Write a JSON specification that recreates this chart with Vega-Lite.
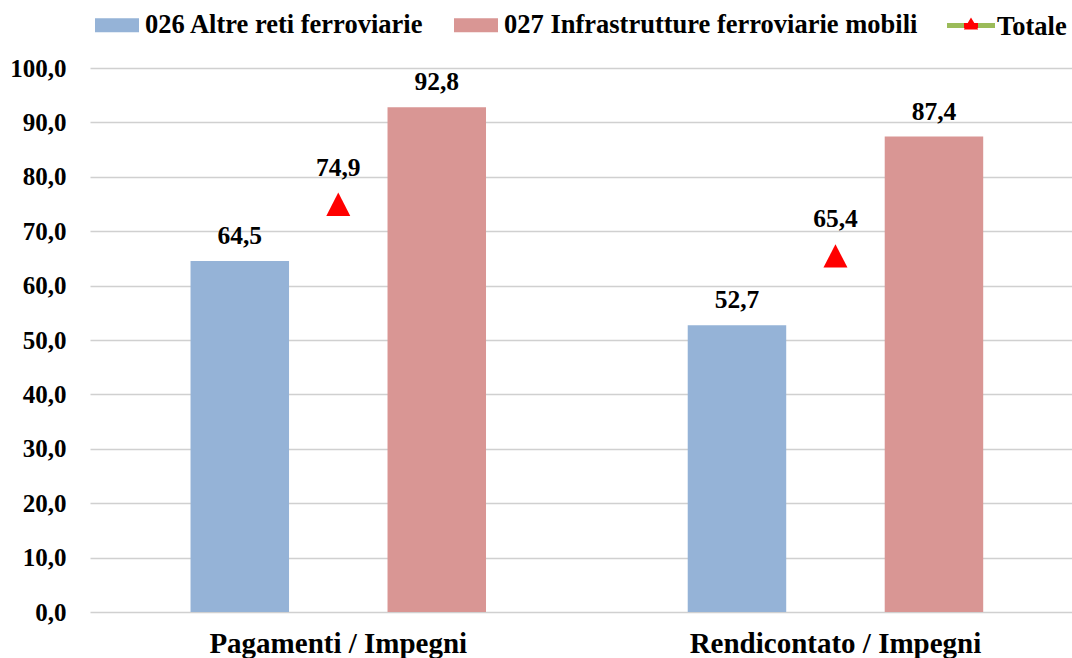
{
  "$schema": "https://vega.github.io/schema/vega-lite/v6.json",
  "width": 982,
  "height": 544,
  "autosize": {"type": "none"},
  "padding": {"left": 90, "top": 68, "right": 0, "bottom": 46},
  "background": "white",
  "data": {
    "values": [
      {"cat": "Pagamenti / Impegni", "serie": "026 Altre reti ferroviarie", "v": 64.5},
      {"cat": "Pagamenti / Impegni", "serie": "Totale", "v": 74.9},
      {"cat": "Pagamenti / Impegni", "serie": "027 Infrastrutture ferroviarie mobili", "v": 92.8},
      {"cat": "Rendicontato / Impegni", "serie": "026 Altre reti ferroviarie", "v": 52.7},
      {"cat": "Rendicontato / Impegni", "serie": "Totale", "v": 65.4},
      {"cat": "Rendicontato / Impegni", "serie": "027 Infrastrutture ferroviarie mobili", "v": 87.4}
    ]
  },
  "transform": [
    {"calculate": "replace(format(datum.v, '.1f'), '.', ',')", "as": "label"}
  ],
  "encoding": {
    "x": {
      "field": "cat",
      "type": "nominal",
      "sort": null,
      "scale": {"paddingInner": 0.4057, "paddingOuter": 0.1904, "align": 0.531},
      "axis": {
        "title": null,
        "labelAngle": 0,
        "domain": false,
        "ticks": false,
        "labelPadding": 40,
        "labelBaseline": "alphabetic",
        "labelLimit": 0,
        "labelFont": "Liberation Serif",
        "labelFontSize": 29,
        "labelFontWeight": "bold",
        "labelColor": "#000000"
      }
    },
    "xOffset": {
      "field": "serie",
      "type": "nominal",
      "scale": {
        "domain": ["026 Altre reti ferroviarie", "Totale", "027 Infrastrutture ferroviarie mobili"],
        "paddingInner": 0,
        "paddingOuter": 0
      }
    },
    "y": {
      "field": "v",
      "type": "quantitative",
      "scale": {"domain": [0, 100], "nice": false},
      "axis": {
        "title": null,
        "values": [0, 10, 20, 30, 40, 50, 60, 70, 80, 90, 100],
        "labelExpr": "replace(format(datum.value, '.1f'), '.', ',')",
        "domain": false,
        "ticks": false,
        "labelPadding": 24,
        "labelFont": "Liberation Serif",
        "labelFontSize": 25,
        "labelFontWeight": "bold",
        "labelColor": "#000000",
        "grid": true,
        "gridColor": "#D0D0D0",
        "gridWidth": 1.3
      }
    }
  },
  "layer": [
    {
      "transform": [{"filter": "datum.serie !== 'Totale'"}],
      "mark": {"type": "bar"},
      "encoding": {
        "color": {
          "field": "serie",
          "type": "nominal",
          "scale": {
            "domain": ["026 Altre reti ferroviarie", "027 Infrastrutture ferroviarie mobili"],
            "range": ["#95B3D7", "#D99694"]
          },
          "legend": {
            "title": null,
            "orient": "top",
            "direction": "horizontal",
            "symbolType": "M-1,-0.318H1V0.318H-1Z",
            "symbolSize": 1936,
            "symbolStrokeWidth": 0,
            "symbolOpacity": 1,
            "labelFont": "Liberation Serif",
            "labelFontSize": 26.5,
            "labelFontWeight": "bold",
            "labelColor": "#000000",
            "labelOffset": 6,
            "columnPadding": 30,
            "offset": 27,
            "labelLimit": 600
          }
        }
      }
    },
    {
      "transform": [{"filter": "datum.serie !== 'Totale'"}],
      "mark": {
        "type": "text",
        "dy": -17,
        "baseline": "alphabetic",
        "font": "Liberation Serif",
        "fontSize": 25.5,
        "fontWeight": "bold",
        "color": "#000000"
      },
      "encoding": {"text": {"field": "label"}}
    },
    {
      "transform": [{"filter": "datum.serie === 'Totale'"}],
      "mark": {
        "type": "point",
        "filled": true,
        "opacity": 0,
        "size": 2304,
        "strokeWidth": 0,
        "fill": {"gradient": "linear", "x1": 0, "y1": 0, "x2": 1, "y2": 0, "stops": [
          {"offset": 0, "color": "#9BBB59"},
          {"offset": 0.35, "color": "#9BBB59"},
          {"offset": 0.35, "color": "#FF0000"},
          {"offset": 0.65, "color": "#FF0000"},
          {"offset": 0.65, "color": "#9BBB59"},
          {"offset": 1, "color": "#9BBB59"}
        ]}
      },
      "encoding": {
        "shape": {
          "field": "serie",
          "type": "nominal",
          "scale": {"domain": ["Totale"], "range": ["M-1,-0.165H1V0.045H-1Z M-0.3,0.1L0,-0.4L0.3,0.1Z"]},
          "legend": {
            "title": null,
            "orient": "top",
            "direction": "horizontal",
            "symbolSize": 2304,
            "symbolOpacity": 1,
            "symbolStrokeWidth": 0,
            "labelFont": "Liberation Serif",
            "labelFontSize": 26.5,
            "labelFontWeight": "bold",
            "labelColor": "#000000",
            "labelOffset": 2,
            "offset": 27
          }
        }
      }
    },
    {
      "transform": [{"filter": "datum.serie === 'Totale'"}],
      "mark": {"type": "point", "filled": true, "color": "#FF0000", "size": 576, "opacity": 1, "shape": "M0,-1L1,0.95L-1,0.95Z"}
    },
    {
      "transform": [{"filter": "datum.serie === 'Totale'"}],
      "mark": {
        "type": "text",
        "dy": -29,
        "baseline": "alphabetic",
        "font": "Liberation Serif",
        "fontSize": 25.5,
        "fontWeight": "bold",
        "color": "#000000"
      },
      "encoding": {"text": {"field": "label"}}
    }
  ],
  "config": {
    "view": {"stroke": null},
    "font": "Liberation Serif",
    "legend": {
      "layout": {"top": {"anchor": "middle", "direction": "horizontal", "margin": 29}}
    }
  }
}
